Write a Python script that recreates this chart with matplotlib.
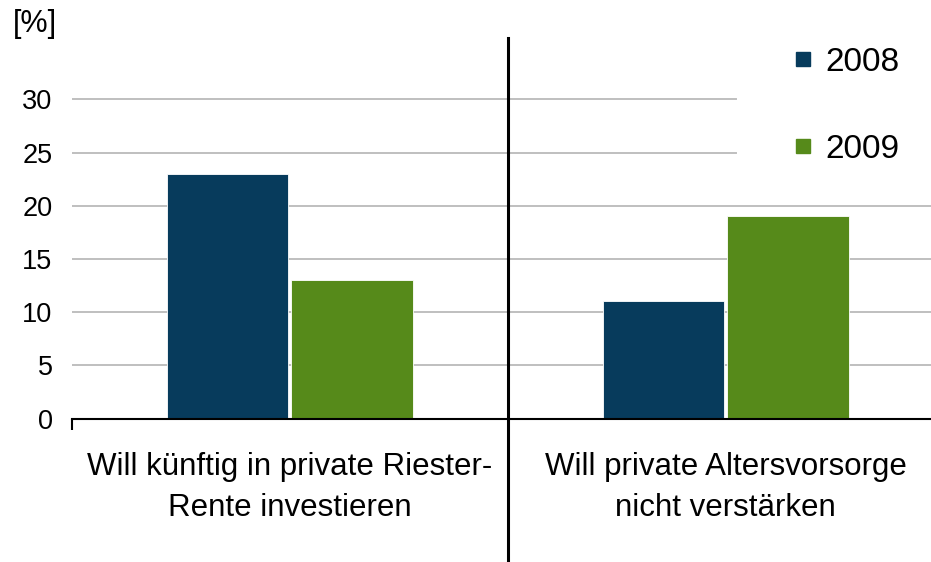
import matplotlib
matplotlib.use('Agg')
import matplotlib.pyplot as plt
from matplotlib.lines import Line2D
import numpy as np

plt.rcParams['font.family'] = ['Liberation Sans', 'DejaVu Sans']

categories = ['Will künftig in private Riester-\nRente investieren',
              'Will private Altersvorsorge\nnicht verstärken']
years = ['2008', '2009']
values_2008 = [23, 11]
values_2009 = [13, 19]
yticks = [0, 5, 10, 15, 20, 25, 30]

c2008 = '#073b5c'
c2009 = '#568a1a'

fig = plt.figure(figsize=(9.31, 5.62), dpi=100)
ax = fig.add_axes([0.0773, 0.2553, 0.9227, 0.6626])

x = np.arange(len(categories))
w = 0.279
ax.bar(x - 0.143, values_2008, w, color=c2008, edgecolor='white', linewidth=0.6, zorder=3)
ax.bar(x + 0.143, values_2009, w, color=c2009, edgecolor='white', linewidth=0.6, zorder=3)

ax.set_xlim(-0.5, 1.471)
ax.set_ylim(0, 35)

# gridlines; the upper ones stop short of the legend
for t in yticks[1:]:
    ax.axhline(t, xmin=0, xmax=1 if t <= 20 else 0.773, color='#bfbfbf', lw=1.4, zorder=1)

for s in ['top', 'right', 'left']:
    ax.spines[s].set_visible(False)
ax.spines['bottom'].set_linewidth(1.5)
ax.spines['bottom'].set_zorder(4)

ax.set_yticks(yticks)
ax.tick_params(axis='y', length=0, pad=14, labelsize=19.5)
ax.set_xticks(x)
ax.set_xticklabels(categories, fontsize=22.5, linespacing=1.5)
ax.tick_params(axis='x', length=0, pad=24)
ax.set_xticks([-0.5], minor=True)
ax.tick_params(axis='x', which='minor', length=8, width=1.5)

# category separator
ax.plot([0.5, 0.5], [-0.385, 1.021], color='black', lw=2.2,
        transform=ax.get_xaxis_transform(), clip_on=False, zorder=5)

fig.text(0.014, 0.958, '[%]', fontsize=22, ha='left', va='center')

handles = [Line2D([], [], marker='s', ls='', color=c2008, markersize=10),
           Line2D([], [], marker='s', ls='', color=c2009, markersize=10)]
ax.legend(handles, years, loc='upper left', bbox_to_anchor=(0.8, 1.079),
          frameon=False, fontsize=24, labelspacing=1.69, handletextpad=0.3,
          handlelength=0.8)

fig.savefig('out.png', dpi=100)
